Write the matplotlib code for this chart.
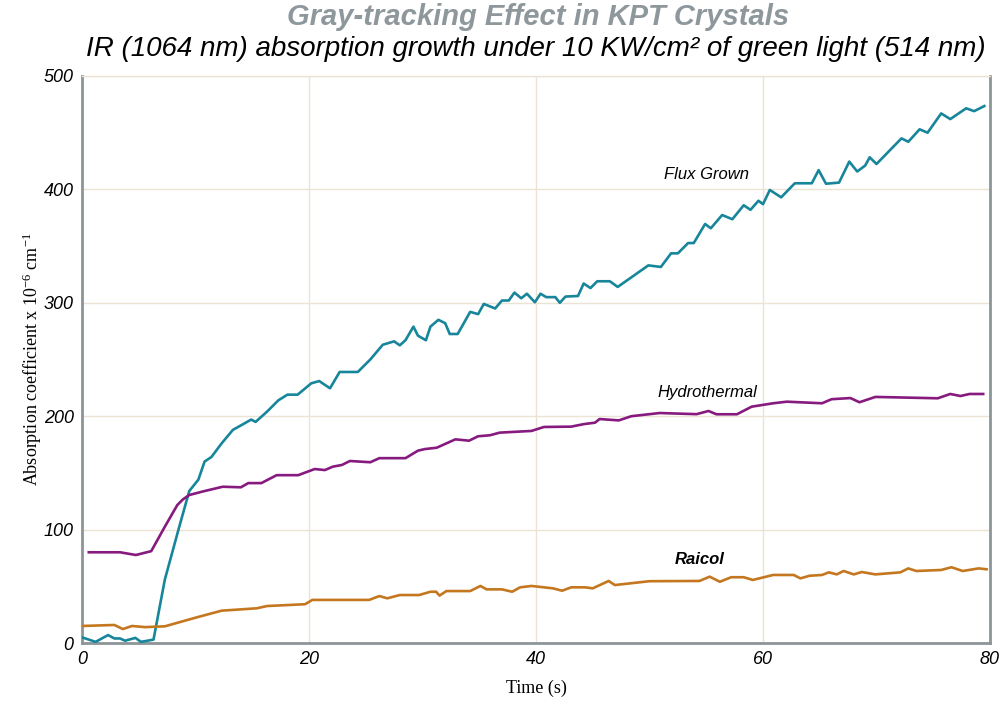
import matplotlib
matplotlib.use("Agg")
import matplotlib.pyplot as plt

plt.rcParams["mathtext.fontset"] = "custom"
plt.rcParams["mathtext.rm"] = "Liberation Serif"
plt.rcParams["mathtext.it"] = "Liberation Serif:italic"

# ---- data ----
flux_x = [0, 1.2, 2.3, 2.85, 3.35, 3.8, 4.7, 5.2, 6.3, 7.3, 8.5, 9.45, 10.25, 10.8, 11.4, 12.3,
          13.3, 14.2, 14.9, 15.3, 16.3, 17.3, 18.1, 19.0, 20.2, 20.9, 21.85, 22.7, 24.3, 25.4,
          26.5, 27.5, 28.0, 28.5, 29.2, 29.6, 30.3, 30.7, 31.4, 32.0, 32.4, 33.1, 34.2, 34.9,
          35.4, 36.4, 37.0, 37.6, 38.1, 38.7, 39.2, 39.9, 40.4, 40.9, 41.7, 42.1, 42.6, 43.7,
          44.2, 44.8, 45.4, 46.5, 47.2, 49.9, 51.0, 51.9, 52.5, 53.4, 53.9, 54.9, 55.4, 56.4,
          57.3, 58.3, 58.9, 59.6, 60.0, 60.6, 61.6, 62.8, 64.3, 64.9, 65.55, 66.7, 67.6, 68.3,
          69.0, 69.4, 70.0, 72.2, 72.8, 73.8, 74.5, 75.7, 76.5, 77.9, 78.6, 79.5]
flux_y = [5, 1, 7, 4, 4, 2, 4.5, 1, 3, 56, 100, 134, 144, 160, 164, 176,
          188, 193, 197, 195, 204, 214, 219, 219, 229, 231, 224.6, 239, 239, 250,
          263, 266, 262.5, 267, 279, 271, 267, 279, 285, 282, 272.5, 272.5, 292, 290,
          299, 295, 302, 302, 309, 304, 308, 300.5, 308, 305, 305, 300, 305.5, 306,
          317, 313, 319, 319, 314, 333, 331.6, 343.6, 343.6, 352.7, 352.7, 369.5, 365.7, 377.4,
          373.7, 386, 382, 390, 387, 399.5, 393, 405.4, 405.4, 417, 405, 406, 424.5, 415.8,
          421, 428.3, 422.4, 445, 442, 453, 450, 467, 462, 471.5, 469, 473.5]

hydro_x = [0.6, 3.35, 4.75, 6.1, 7.3, 8.4, 8.9, 9.45, 10.8, 12.4, 14.0, 14.65, 15.8, 17.15,
           19.05, 20.5, 21.4, 22.1, 22.9, 23.6, 25.4, 26.2, 28.5, 29.6, 30.2, 31.25, 32.9,
           34.1, 34.9, 35.95, 36.8, 39.6, 40.7, 43.1, 44.2, 45.2, 45.6, 47.3, 48.4, 50.9,
           54.15, 55.2, 55.9, 57.7, 59.0, 60.9, 62.1, 65.2, 66.05, 67.7, 68.5, 69.9, 75.4,
           76.5, 77.4, 78.2, 79.4]
hydro_y = [80, 80, 77.6, 81, 102.6, 121.7, 126.7, 130.5, 134, 137.8, 137.3, 141, 141, 148,
           148, 153.4, 152.5, 155.5, 157, 160.5, 159.4, 163, 163, 169.6, 171, 172.2, 179.6,
           178.4, 182.3, 183.2, 185.5, 187, 190.5, 190.8, 193, 194.3, 197.5, 196.3, 200, 202.8,
           201.8, 204.6, 201.7, 201.7, 208.4, 211.4, 212.8, 211.4, 215, 216, 212.3, 217, 215.8,
           219.6, 217.8, 219.6, 219.6]

raicol_x = [0, 2.85, 3.6, 4.4, 5.55, 7.3, 10.1, 12.3, 15.4, 16.3, 19.65, 20.3, 25.3, 26.2,
            26.9, 28.0, 29.7, 30.7, 31.2, 31.5, 32.1, 34.2, 35.1, 35.65, 37.0, 37.9, 38.6,
            39.6, 41.5, 42.3, 43.1, 44.3, 45.0, 46.4, 46.95, 50.0, 54.4, 55.3, 56.2, 57.2,
            58.3, 59.1, 60.9, 62.7, 63.3, 64.1, 65.2, 65.8, 66.5, 67.1, 68.0, 68.7, 69.9,
            72.1, 72.8, 73.5, 75.7, 76.6, 77.6, 79.0, 79.7]
raicol_y = [15, 15.9, 12.3, 15, 14, 14.7, 22.6, 28.5, 30.6, 32.6, 34.2, 38, 38, 41.4,
            39.4, 42.3, 42.3, 45.2, 45.2, 41.8, 45.8, 45.8, 50.3, 47.3, 47.3, 45.2, 49.1,
            50.3, 48.2, 46.1, 49.1, 49.1, 48.2, 54.7, 51.1, 54.5, 54.7, 58.5, 54, 58,
            58, 55.6, 60, 60, 57, 59.3, 60, 62.3, 60.5, 63.5, 60.5, 62.6, 60.5,
            62.3, 65.8, 63.5, 64.4, 66.8, 63.5, 65.8, 65]

x_ticks = [0, 20, 40, 60, 80]
y_ticks = [0, 100, 200, 300, 400, 500]

# ---- figure ----
fig = plt.figure(figsize=(10.08, 7.07), dpi=100)
ax = fig.add_axes([82/1008, 1-643/707, (990-82)/1008, (643-76)/707])

c_flux = "#17869b"
c_hydro = "#861a7e"
c_raicol = "#c4771f"

ax.plot(flux_x, flux_y, color=c_flux, lw=1.9, zorder=3)
ax.plot(hydro_x, hydro_y, color=c_hydro, lw=1.9, zorder=3)
ax.plot(raicol_x, raicol_y, color=c_raicol, lw=1.9, zorder=3)

ax.set_xlim(0, 80)
ax.set_ylim(0, 500)
ax.set_xticks(x_ticks)
ax.set_yticks(y_ticks)
ax.grid(True, color="#ebe4d4", lw=1.0, zorder=0)
ax.tick_params(length=0, labelsize=13, pad=6)
for lab in ax.get_xticklabels() + ax.get_yticklabels():
    lab.set_fontstyle("italic")
    lab.set_family("Liberation Sans")

for side in ["left", "bottom", "right"]:
    ax.spines[side].set_color("#8c9598")
    ax.spines[side].set_linewidth(2.0)
ax.spines["top"].set_color("#ebe4d4")
ax.spines["top"].set_linewidth(1.0)

ax.set_xlabel("Time (s)", family="Liberation Serif", fontsize=13, labelpad=8)
ax.set_ylabel(r"Absorption coefficient x 10$^{\mathregular{-6}}$ cm$^{\mathregular{-1}}$",
              family="Liberation Serif", fontsize=13, labelpad=0)

ax.text(55, 413, "Flux Grown", family="Liberation Sans", style="italic", fontsize=12,
        ha="center", va="center")
ax.text(55.1, 221, "Hydrothermal", family="Liberation Sans", style="italic", fontsize=12,
        ha="center", va="center")
ax.text(54.4, 74, "Raicol", family="Liberation Sans", style="italic", weight="bold",
        fontsize=12, ha="center", va="center")

fig.text(0.534, 0.976, "Gray-tracking Effect in KPT Crystals", family="Liberation Sans",
         style="italic", weight="bold", fontsize=21, color="#8e979b", ha="center", va="center")
fig.text(0.532, 0.930, "IR (1064 nm) absorption growth under 10 KW/cm\u00b2 of green light (514 nm)",
         family="Liberation Sans", style="italic", fontsize=20, color="black", ha="center",
         va="center")

fig.savefig("out.png", dpi=100)
